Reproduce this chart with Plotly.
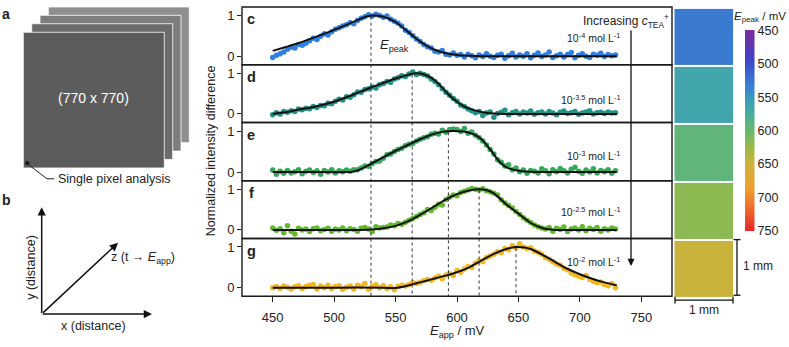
import plotly.graph_objects as go

W, H = 789, 347

# ---------------- data ----------------
E_APP = list(range(450, 730, 3))  # sampling grid, mV (94 points)
PANELS = ["c", "d", "e", "f", "g"]
CONC_EXP = ["-4", "-3.5", "-3", "-2.5", "-2"]
E_PEAK = [530, 563.5, 593, 618, 648]
DOT_COLORS = ["#2f7fe2", "#1f9386", "#33a95c", "#62b92c", "#f5b71f"]

data_c = [-0.03, 0.02, 0.06, 0.10, 0.17, 0.22, 0.20, 0.29, 0.27, 0.32,
          0.38, 0.44, 0.41, 0.49, 0.55, 0.52, 0.60, 0.66, 0.70, 0.74,
          0.77, 0.82, 0.80, 0.88, 0.93, 0.97, 1.02, 0.99, 1.03, 1.00,
          0.96, 0.99, 0.91, 0.86, 0.81, 0.74, 0.64, 0.58, 0.50, 0.42,
          0.36, 0.29, 0.23, 0.20, 0.12, 0.10, 0.14, 0.05, 0.03, 0.08,
          0.02, 0.04, -0.02, 0.05, 0.01, -0.04, 0.03, -0.01, 0.06, 0.00,
          -0.03, 0.02, 0.05, -0.05, 0.01, 0.07, -0.02, 0.03, 0.00, 0.06,
          -0.04, 0.02, 0.08, -0.01, 0.03, 0.10, -0.03, 0.01, 0.05, -0.02,
          0.04, 0.09, -0.04, 0.02, 0.06, 0.00, -0.03, 0.05, 0.02, 0.07,
          -0.01, 0.04, 0.01, 0.03]
data_d = [-0.02, 0.03, 0.00, 0.06, 0.04, 0.08, 0.06, 0.12, 0.10, 0.14,
          0.13, 0.18, 0.16, 0.21, 0.20, 0.26, 0.25, 0.31, 0.36, 0.34,
          0.42, 0.41, 0.47, 0.54, 0.53, 0.60, 0.62, 0.66, 0.64, 0.72,
          0.75, 0.80, 0.78, 0.86, 0.89, 0.94, 0.92, 0.98, 1.03, 0.97,
          1.00, 0.97, 0.93, 0.86, 0.80, 0.72, 0.62, 0.53, 0.46, 0.38,
          0.31, 0.22, 0.18, 0.12, 0.08, 0.03, 0.06, -0.04, 0.02, 0.05,
          -0.08, 0.01, 0.04, 0.09, -0.02, 0.03, 0.06, 0.00, 0.05, 0.02,
          0.07, -0.01, 0.03, 0.05, 0.00, 0.06, 0.02, -0.02, 0.04, 0.07,
          0.01, 0.03, 0.06, -0.01, 0.02, 0.05, 0.08, 0.00, 0.03, 0.04,
          0.01, 0.05, 0.02, 0.03]
data_e = [0.05, -0.05, 0.02, -0.03, 0.04, -0.02, 0.01, 0.06, -0.04, 0.02,
          0.05, -0.01, 0.03, -0.05, 0.04, 0.00, 0.06, -0.02, 0.03, 0.01,
          0.05, 0.02, 0.06, 0.06, 0.10, 0.15, 0.14, 0.21, 0.26, 0.27,
          0.34, 0.42, 0.44, 0.50, 0.55, 0.58, 0.64, 0.68, 0.70, 0.76,
          0.80, 0.84, 0.86, 0.92, 0.95, 0.93, 1.02, 0.97, 1.04, 1.05,
          1.04, 0.99, 1.06, 0.95, 0.98, 0.90, 0.84, 0.76, 0.66, 0.55,
          0.44, 0.30, 0.24, 0.15, 0.18, 0.06, 0.10, 0.01, 0.05, -0.03,
          0.04, 0.02, -0.02, 0.08, 0.03, -0.04, 0.06, 0.01, 0.09, 0.03,
          -0.02, 0.07, 0.12, 0.02, -0.03, 0.05, 0.00, 0.08, -0.02, 0.04,
          0.01, 0.06, -0.03, 0.03]
data_f = [0.05, -0.01, 0.03, -0.07, 0.10, -0.03, -0.10, 0.04, 0.00, 0.02,
          -0.04, 0.03, 0.05, -0.02, 0.01, 0.04, -0.03, 0.02, 0.00, 0.05,
          -0.02, 0.03, 0.01, -0.03, 0.04, 0.06, 0.02, -0.04, 0.08, 0.05,
          0.06, 0.07, 0.12, 0.10, 0.16, 0.14, 0.19, 0.24, 0.28, 0.33,
          0.38, 0.42, 0.50, 0.48, 0.56, 0.63, 0.61, 0.75, 0.80, 0.86,
          0.84, 0.92, 0.95, 0.98, 1.02, 1.00, 0.98, 1.01, 0.96, 0.94,
          0.90, 0.86, 0.74, 0.66, 0.60, 0.54, 0.45, 0.38, 0.30, 0.24,
          0.18, 0.12, 0.08, 0.05, 0.02, 0.06, -0.03, 0.04, 0.01, 0.07,
          -0.04, 0.02, 0.05, 0.00, 0.08, -0.02, 0.04, 0.01, 0.06, -0.03,
          0.03, 0.00, 0.05, 0.02]
data_g = [0.00, 0.03, -0.02, 0.04, 0.01, -0.03, 0.02, 0.05, -0.02, 0.03,
          0.06, 0.08, -0.03, 0.04, 0.00, 0.06, -0.02, 0.03, 0.05, -0.04,
          0.01, 0.04, -0.03, 0.06, 0.02, 0.10, -0.04, 0.03, 0.07, 0.00,
          0.05, -0.02, 0.02, -0.05, 0.03, 0.06, 0.04, 0.08, 0.12, 0.10,
          0.13, 0.17, 0.20, 0.18, 0.24, 0.28, 0.22, 0.31, 0.34, 0.30,
          0.42, 0.38, 0.46, 0.52, 0.50, 0.60, 0.66, 0.64, 0.74, 0.78,
          0.82, 0.88, 0.86, 0.96, 0.93, 1.03, 0.98, 1.08, 1.00, 0.96,
          0.98, 0.90, 0.87, 0.82, 0.74, 0.70, 0.64, 0.58, 0.55, 0.48,
          0.44, 0.36, 0.32, 0.28, 0.25, 0.30, 0.20, 0.16, 0.12, 0.14,
          0.08, 0.05, 0.10, 0.00]
DATA = [data_c, data_d, data_e, data_f, data_g]

fit_x_c = [450, 460, 470, 480, 490, 500, 510, 520, 527, 532, 540, 550, 560, 570, 580, 590, 600, 610, 620, 650, 690, 730]
fit_y_c = [0.13, 0.22, 0.31, 0.42, 0.53, 0.645, 0.77, 0.9, 0.98, 1.0, 0.97, 0.84, 0.6, 0.36, 0.18, 0.08, 0.03, 0.01, 0.0, 0.0, 0.0, 0.0]
fit_x_d = [450, 460, 470, 480, 490, 500, 510, 520, 530, 540, 550, 560, 566, 572, 580, 585, 590, 595, 600, 605, 610, 620, 630, 640, 690, 730]
fit_y_d = [0.0, 0.04, 0.1, 0.15, 0.22, 0.3, 0.41, 0.53, 0.65, 0.76, 0.87, 0.96, 1.0, 0.98, 0.87, 0.74, 0.58, 0.42, 0.3, 0.2, 0.13, 0.05, 0.01, 0.0, 0.0, 0.0]
fit_x_e = [450, 480, 510, 515, 520, 530, 540, 550, 560, 570, 580, 590, 597, 605, 610, 615, 620, 625, 630, 635, 640, 650, 660, 690, 730]
fit_y_e = [0.0, 0.0, 0.0, 0.01, 0.05, 0.2, 0.36, 0.52, 0.66, 0.8, 0.92, 0.99, 1.0, 0.99, 0.96, 0.9, 0.8, 0.63, 0.43, 0.24, 0.12, 0.03, 0.01, 0.0, 0.0]
fit_x_f = [450, 480, 510, 520, 530, 540, 550, 560, 570, 580, 590, 600, 610, 618, 625, 630, 640, 650, 660, 670, 680, 700, 730]
fit_y_f = [0.0, 0.0, 0.0, 0.0, 0.01, 0.04, 0.1, 0.21, 0.37, 0.55, 0.73, 0.88, 0.97, 1.0, 0.97, 0.9, 0.63, 0.4, 0.17, 0.04, 0.0, 0.0, 0.0]
fit_x_g = [450, 500, 540, 550, 560, 570, 580, 590, 600, 610, 620, 630, 640, 648, 655, 660, 670, 680, 690, 700, 710, 720, 730]
fit_y_g = [0.0, 0.0, 0.0, -0.01, 0.05, 0.13, 0.21, 0.29, 0.38, 0.5, 0.67, 0.83, 0.95, 1.0, 0.99, 0.95, 0.8, 0.63, 0.46, 0.33, 0.22, 0.13, 0.06]
FITS = [(fit_x_c, fit_y_c), (fit_x_d, fit_y_d), (fit_x_e, fit_y_e), (fit_x_f, fit_y_f), (fit_x_g, fit_y_g)]

X_TICKS = [450, 500, 550, 600, 650, 700, 750]
CBAR_TICKS = [450, 500, 550, 600, 650, 700, 750]
CBAR_LEVELS = list(range(450, 752, 2))
COLORSCALE = [[0.0, "#7b2a9e"], [0.15, "#3d45c8"], [0.28, "#3a80d2"], [0.35, "#3a9fb8"],
              [0.44, "#4fb18e"], [0.52, "#72b962"], [0.6, "#a6b842"], [0.68, "#d4b03a"],
              [0.79, "#eca030"], [0.88, "#f07030"], [1.0, "#e52a2a"]]

FONT = "Liberation Sans, Arial, Helvetica, sans-serif"
INK = "#222222"

# ---------------- geometry (pixels) ----------------
PX_L, PX_R = 242, 672
TOPS = [1, 61, 121, 181.5, 241.5]
BOTS = [61, 121, 181.5, 241.5, 301.5]
YR = [-0.21, 1.21]

fig = go.Figure()

# data + fits
for i, p in enumerate(PANELS):
    ya = "y" if i == 0 else f"y{i+1}"
    vals = DATA[i]
    fig.add_trace(go.Scatter(x=E_APP[:len(vals)], y=vals, mode="markers", xaxis="x", yaxis=ya,
                             marker=dict(size=5.5, color=DOT_COLORS[i], line=dict(width=0)),
                             hoverinfo="skip"))
    fx, fy = FITS[i]
    fig.add_trace(go.Scatter(x=fx, y=fy, mode="lines", xaxis="x", yaxis=ya,
                             line=dict(color="#111111", width=2, shape="spline", smoothing=0.7),
                             hoverinfo="skip"))

# maps (E_peak images) on shared colour axis
fig.add_trace(go.Heatmap(z=[[v] for v in E_PEAK], y=list(range(5)), x=[0], xaxis="x6", yaxis="y6",
                         coloraxis="coloraxis", ygap=2, hoverinfo="skip"))
# colour scale bar
fig.add_trace(go.Heatmap(z=[[v] for v in CBAR_LEVELS], y=CBAR_LEVELS, x=[0], xaxis="x7", yaxis="y7",
                         coloraxis="coloraxis", hoverinfo="skip"))
# pixel overlay dummy
fig.add_trace(go.Scatter(x=[None], y=[None], xaxis="x8", yaxis="y8", mode="markers", hoverinfo="skip"))

layout = dict(
    width=W, height=H, margin=dict(l=0, r=0, t=0, b=0),
    paper_bgcolor="white", plot_bgcolor="rgba(0,0,0,0)", showlegend=False,
    font=dict(family=FONT, size=13, color=INK),
    coloraxis=dict(colorscale=COLORSCALE, cmin=450, cmax=750, showscale=False),
    xaxis=dict(domain=[PX_L / W, PX_R / W], range=[425, 775], anchor="y5", tickvals=X_TICKS,
               ticks="outside", ticklen=5, tickwidth=1.3, tickcolor=INK, showgrid=False,
               zeroline=False, showline=False, tickfont=dict(size=13), ticklabelstandoff=4),
    xaxis6=dict(domain=[674.3 / W, 733.3 / W], range=[-0.5, 0.5], visible=False, anchor="y6"),
    yaxis6=dict(domain=[1 - 303 / H, 1 - 2 / H], range=[4.5, -0.5], visible=False, anchor="x6"),
    xaxis7=dict(domain=[745 / W, 754.5 / W], range=[-0.5, 0.5], visible=False, anchor="y7"),
    yaxis7=dict(domain=[1 - 234 / H, 1 - 25 / H], range=[751, 449], anchor="x7", side="right",
                tickvals=CBAR_TICKS, ticks="", showgrid=False, zeroline=False, showline=False,
                tickfont=dict(size=12.5), ticklabelstandoff=2),
    xaxis8=dict(domain=[0, 1], range=[0, W], visible=False, anchor="y8"),
    yaxis8=dict(domain=[0, 1], range=[H, 0], visible=False, anchor="x8"),
)
for i in range(5):
    key = "yaxis" if i == 0 else f"yaxis{i+1}"
    layout[key] = dict(domain=[1 - BOTS[i] / H, 1 - TOPS[i] / H], range=YR, anchor="x",
                       tickvals=[0, 1], ticks="outside", ticklen=4, tickwidth=1.3, tickcolor=INK,
                       showgrid=False, zeroline=False, showline=False, tickfont=dict(size=13))
fig.update_layout(**layout)

shapes = []
annotations = []


def ann(text, x, y, size=12.5, xa="center", ya="middle", **kw):
    d = dict(text=text, x=x, y=y, xref="x8", yref="y8", showarrow=False, xanchor=xa, yanchor=ya,
             font=dict(size=size, color=kw.pop("color", INK), family=FONT))
    d.update(kw)
    annotations.append(d)


def arrow(tx, ty, hx, hy, width=1.5):
    annotations.append(dict(text="", x=hx, y=hy, ax=tx, ay=ty, xref="x8", yref="y8", axref="x8", ayref="y8",
                            showarrow=True, arrowhead=2, arrowsize=1.1, arrowwidth=width, arrowcolor="#111111"))


def line(x0, y0, x1, y1, width=1.4, dash=None, color="#111111"):
    d = dict(type="line", xref="x8", yref="y8", x0=x0, y0=y0, x1=x1, y1=y1,
             line=dict(color=color, width=width))
    if dash:
        d["line"]["dash"] = dash
    shapes.append(d)


# ---------- panel a ----------
stack = [(48.3, 1, "#8f8f8f"), (40, 9.7, "#7d7d7d"), (31.7, 18.4, "#6c6c6c"), (23.3, 27.3, "#5c5c5c")]
for x0, y0, col in stack:
    shapes.append(dict(type="rect", xref="x8", yref="y8", x0=x0, y0=y0, x1=x0 + 141, y1=y0 + 141,
                       fillcolor=col, line=dict(color="white", width=0.8)))
ann("<b>a</b>", 6, 8, size=14)
ann("(770 x 770)", 93.5, 96, size=14, color="white")
shapes.append(dict(type="circle", xref="x8", yref="y8", x0=25, y0=161, x1=29.5, y1=165.5,
                   fillcolor="#1a1a1a", line=dict(width=0)))
shapes.append(dict(type="path", xref="x8", yref="y8", path="M 27.5 164 L 47 179.5 L 54 179.5",
                   line=dict(color="#222222", width=1)))
ann("Single pixel analysis", 56, 180, size=12.5, xa="left")

# ---------- panel b ----------
ann("<b>b</b>", 6, 202, size=14)
arrow(41.7, 320.5, 41.7, 209)
arrow(41.2, 320, 152, 320)
arrow(41.7, 320, 118, 246)
ann("y (distance)", 31, 272, size=12.5, textangle=-90)
ann("x (distance)", 93.5, 332.5, size=12.5)
ann("z (t \u2192 <i>E</i><sub>app</sub>)", 109, 262, size=12.5, xa="left")

# ---------- main chart ----------
for i in range(5):
    ya = "y" if i == 0 else f"y{i+1}"
    shapes.append(dict(type="rect", xref="x domain", yref=f"{ya} domain", x0=0, x1=1, y0=0, y1=1,
                       line=dict(color="#1a1a1a", width=1.4), fillcolor="rgba(0,0,0,0)"))
    # dotted E_peak line from the peak level down to the bottom axis
    top_px = TOPS[i] + (YR[1] - 0.97) / (YR[1] - YR[0]) * (BOTS[i] - TOPS[i])
    shapes.append(dict(type="line", xref="x", yref="y8", x0=E_PEAK[i], x1=E_PEAK[i], y0=top_px, y1=BOTS[4],
                       line=dict(color="#333333", width=1, dash="dot")))
    ann(f"<b>{PANELS[i]}</b>", 251, TOPS[i] + 13, size=14.5)
    ann(f"10<sup>{CONC_EXP[i]}</sup> mol L<sup>-1</sup>", 622, [33, 97.5, 155, 213, 265][i],
        size=10.5, xa="right")

ann("<i>E</i><sub>peak</sub>", 378, 41, size=13, xa="left")
ann("Increasing <i>c</i><sub>TEA</sub><sup>+</sup>", 671, 16, size=12, xa="right")
arrow(631, 24, 631, 270, width=1.3)
ann("Normalized intensity difference", 211, 151, size=12.5, textangle=-90)
ann("<i>E</i><sub>app</sub> / mV", 457, 338, size=13)

# ---------- colour bar + scale bars ----------
ann("<i>E</i><sub>peak</sub> / mV", 788, 11, size=11.5, xa="right")
line(737, 242.7, 737, 300.5, width=1.3)
line(733.5, 242.7, 740.5, 242.7, width=1.3)
line(733.5, 300.5, 740.5, 300.5, width=1.3)
ann("1 mm", 741, 270.5, size=12, xa="left")
line(675, 305.5, 733, 305.5, width=1.3)
line(675, 302, 675, 309, width=1.3)
line(733, 302, 733, 309, width=1.3)
ann("1 mm", 704, 316, size=12)

fig.update_layout(shapes=shapes, annotations=annotations)
fig.write_html("out.html")
